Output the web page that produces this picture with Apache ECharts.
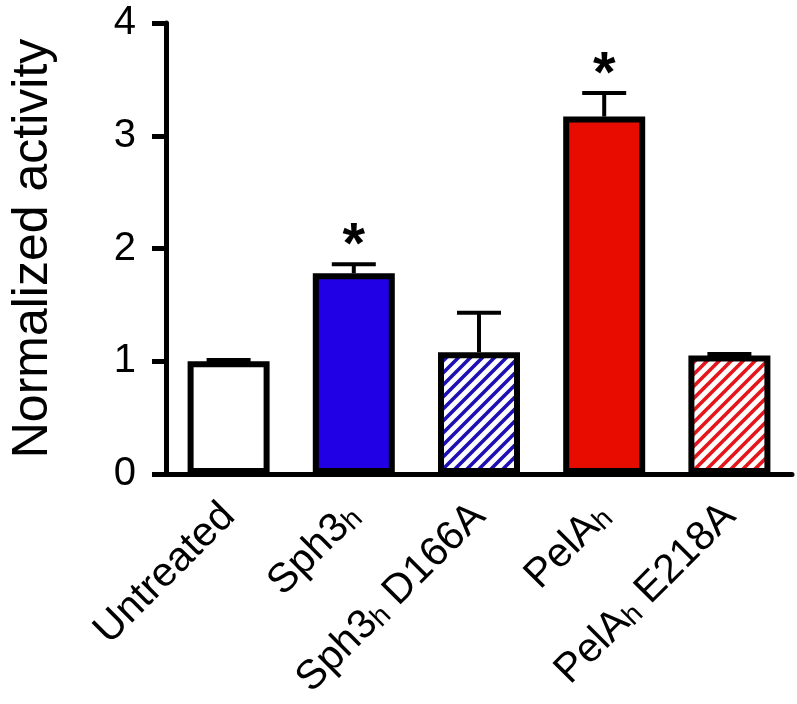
<!DOCTYPE html>
<html>
<head>
<meta charset="utf-8">
<script src="https://cdn.jsdelivr.net/npm/echarts@6/dist/echarts.min.js"></script>
<style>html,body{margin:0;padding:0;background:#fff}#c{width:797px;height:704px}</style>
</head>
<body>
<div id="c"></div>
<script>
// ---- data ----
const categories = ['Untreated', 'Sph3{s|h}', 'Sph3{s|h} D166A', 'PelA{s|h}', 'PelA{s|h} E218A'];
const values = [1.00, 1.78, 1.08, 3.17, 1.05];
const errors = [0.01, 0.08, 0.35, 0.21, 0.015];
const significance = ['', '*', '', '*', ''];
const yTicks = [0, 1, 2, 3, 4];

// ---- styles ----
function hatch(color) {
  const c = document.createElement('canvas');
  c.width = 12; c.height = 12;
  const g = c.getContext('2d');
  g.fillStyle = '#ffffff'; g.fillRect(0, 0, 12, 12);
  g.strokeStyle = color; g.lineWidth = 3.6;
  g.beginPath();
  g.moveTo(-3, 15); g.lineTo(15, -3);
  g.moveTo(-3, 3); g.lineTo(3, -3);
  g.moveTo(9, 15); g.lineTo(15, 9);
  g.stroke();
  return { image: c, repeat: 'repeat' };
}
const fills = ['#ffffff', '#2200e6', hatch('#1c0fb4'), '#e80c00', hatch('#e4161c')];
const FONT = '"Liberation Sans", Arial, Helvetica, sans-serif';

const chart = echarts.init(document.getElementById('c'), null, { renderer: 'canvas' });
chart.setOption({
  animation: false,
  backgroundColor: '#ffffff',
  grid: { left: 156, right: 5, top: 23, bottom: 230 },
  xAxis: {
    type: 'category',
    data: categories,
    axisLine: { lineStyle: { color: '#000', width: 5 } },
    axisTick: { alignWithLabel: true, length: 16, lineStyle: { color: '#000', width: 5 } },
    axisLabel: {
      rotate: 45, margin: 36, fontSize: 41, color: '#000', fontFamily: FONT, interval: 0,
      rich: { s: { fontSize: 28, fontFamily: FONT, color: '#000', verticalAlign: 'bottom', lineHeight: 20 } }
    }
  },
  yAxis: {
    type: 'value', min: yTicks[0], max: yTicks[yTicks.length - 1], interval: 1,
    name: 'Normalized activity', nameLocation: 'middle', nameGap: 108,
    nameTextStyle: { fontSize: 50, color: '#000', fontFamily: FONT },
    axisLine: { show: true, lineStyle: { color: '#000', width: 5 } },
    axisTick: { show: true, length: 14, lineStyle: { color: '#000', width: 5 } },
    axisLabel: { fontSize: 40, color: '#000', fontFamily: FONT, margin: 30 },
    splitLine: { show: false }
  },
  series: [
    {
      type: 'custom',
      z: 1,
      data: values.map((v, i) => [i, v, errors[i]]),
      renderItem: function (params, api) {
        const i = api.value(0), v = api.value(1), e = api.value(2);
        const sig = significance[params.dataIndex];
        const top = api.coord([i, v]);
        const cap = api.coord([i, v + e]);
        const hw = 22;
        const children = [
          { type: 'line', shape: { x1: top[0], y1: top[1], x2: cap[0], y2: cap[1] }, style: { stroke: '#000', lineWidth: 4 } },
          { type: 'line', shape: { x1: cap[0] - hw, y1: cap[1], x2: cap[0] + hw, y2: cap[1] }, style: { stroke: '#000', lineWidth: 4 } }
        ];
        if (sig) {
          children.push({ type: 'text', style: { text: sig, x: cap[0], y: cap[1] - 17, align: 'center', verticalAlign: 'middle', fontSize: 58, fontWeight: 'bold', fontFamily: FONT, fill: '#000' } });
        }
        return { type: 'group', children: children };
      }
    },
    {
      type: 'bar',
      z: 2,
      barWidth: 82,
      data: values.map((v, i) => ({ value: v, itemStyle: { color: fills[i], borderColor: '#000', borderWidth: 6 } }))
    }
  ]
});
</script>
</body>
</html>
